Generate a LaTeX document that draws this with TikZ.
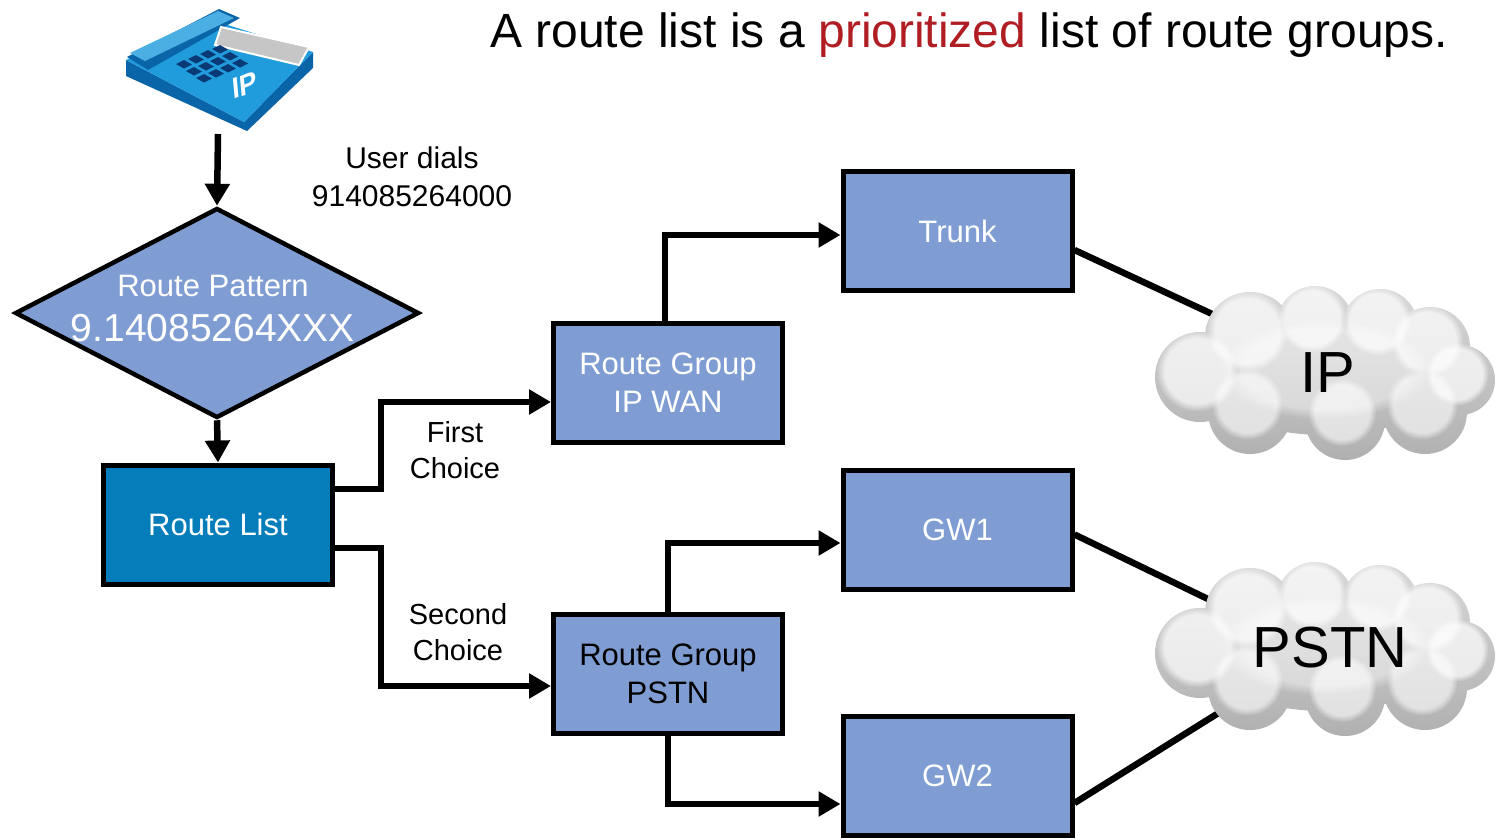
\documentclass[tikz,border=0pt]{standalone}
\usepackage{fontspec}
\setmainfont{Liberation Sans}
\usetikzlibrary{arrows.meta,shapes.geometric,fadings}
\definecolor{boxblue}{RGB}{127,157,210}
\definecolor{listblue}{RGB}{4,125,186}
\definecolor{titlered}{RGB}{176,30,36}
\definecolor{phonetop}{RGB}{32,155,220}
\definecolor{phoneside}{RGB}{10,100,168}
\definecolor{keyblue}{RGB}{10,58,118}

% a soft shaded cloud centred on (#1,#2)
\newcommand{\netcloud}[2]{%
  \begin{scope}[shift={(#1,#2)}]
    % silhouette, lighter at the top and greyer underneath
    \shade[top color=gray!30, bottom color=gray!62]
      (0,5) ellipse[x radius=125pt, y radius=58pt]
      foreach \dx/\dy/\r in {-75/-35/45, -10/-48/38, 55/-45/38, 105/-25/40,
                             -125/5/45, 135/8/35, -75/40/42, 20/48/40, 100/40/42}
        {(\dx,\dy) circle[radius=\r pt]};
    % puffs, back to front, each with a soft pale top
    \foreach \dx/\dy/\r in {-75/-35/45, -10/-48/38, 55/-45/38, 105/-25/40, -125/5/45, 135/8/35}
      \fill[white, opacity=0.7, path fading=circle with fuzzy edge 20 percent] (\dx-3,\dy-6) circle[radius=0.9*\r pt];
    \foreach \dx/\dy/\r in {-75/40/42, 20/48/40, 100/40/42}
      \fill[white, opacity=0.6, path fading=circle with fuzzy edge 20 percent] (\dx-3,\dy-8) circle[radius=0.85*\r pt];
    \fill[white, opacity=0.45, path fading=circle with fuzzy edge 20 percent] (0,-3) ellipse[x radius=105pt, y radius=50pt];
  \end{scope}}

\begin{document}
\begin{tikzpicture}[x=1pt,y=-1pt,
  box/.style={draw=black, line width=5pt, fill=boxblue, minimum width=229pt,
    minimum height=119pt, inner sep=0pt, align=center,
    font=\fontsize{31}{38}\selectfont, text=white},
  arr/.style={line width=6.5pt, -{Triangle[length=22pt,width=24pt]}},
  link/.style={line width=6.5pt},
  lbl/.style={align=center, font=\fontsize{29}{36}\selectfont, text=black}]

\useasboundingbox (0,0) rectangle (1496,839);
\fill[white] (0,0) rectangle (1496,839);

% heading
\node[anchor=base west, inner sep=0pt, font=\fontsize{48}{48}\selectfont] (title) at (490,47)
  {A route list is a \textcolor{titlered}{prioritized} list of route groups.};

% IP phone icon
\fill[phoneside] (126,60) -- (244,122) -- (313,52) -- (313,68) -- (247,131) -- (126,76) -- cycle;
\fill[phonetop] (126,60) -- (212,20) -- (313,52) -- (244,122) -- cycle;
\fill[phoneside] (127,57) -- (219,9) -- (240,18) -- (148,70) -- cycle;
\fill[phonetop!80!white] (130,53) -- (218,11) -- (234,18) -- (145,61) -- cycle;
\filldraw[fill=gray!45, draw=white, line width=2pt] (221,27) -- (309,47) -- (299,65) -- (215,45) -- cycle;
\foreach \i in {0,1,2,3}
  \foreach \j in {0,1,2}
    \fill[keyblue] ({176+12*\i+10*\j},{64-5*\i+7*\j}) -- ++(8,-4) -- ++(8,4.5) -- ++(-8,4) -- cycle;
\node[text=white, font=\bfseries\fontsize{28}{28}\selectfont, rotate=22, xslant=0.3] (iplabel) at (245,85) {IP};
\coordinate (phonebase) at (218,134);

% call-routing chain
\node[diamond, draw=black, line width=4.5pt, fill=boxblue, minimum width=404pt, minimum height=210pt,
  inner sep=0pt, shape aspect=1.92] (rp) at (217,313) {};
\node[text=white, font=\fontsize{31}{31}\selectfont] (rptop) at (213,286) {Route Pattern};
\node[text=white, font=\fontsize{39}{39}\selectfont] (rpnum) at (213,328) {9.14085264XXX};
\node[box, fill=listblue] (rl) at (218,524.5) {Route List};
\node[box] (rgip) at (668,382.5) {Route Group\\IP WAN};
\node[box, text=black] (rgp) at (668,673.5) {Route Group\\PSTN};
\node[box] (trunk) at (957.5,231) {Trunk};
\node[box] (gw1) at (957.5,529.5) {GW1};
\node[box] (gw2) at (957.5,776) {GW2};

\node[lbl, font=\fontsize{30}{38}\selectfont] (dial) at (412,177) {User dials\\914085264000};
\node[lbl] (first) at (455,450) {First\\Choice};
\node[lbl] (second) at (458,632) {Second\\Choice};

\draw[arr] (phonebase) -- (rp.north);
\draw[arr] (rp.south) -- (rl.north);
\draw[arr] ([yshift=35.5pt]rl.east) -- ++(46,0) |- ([yshift=-19.5pt]rgip.west);
\draw[arr] ([yshift=-23.5pt]rl.east) -- ++(46,0) |- ([yshift=-12.5pt]rgp.west);
\draw[arr] ([xshift=-3pt]rgip.north) |- ([yshift=-4pt]trunk.west);
\draw[arr] (rgp.north) |- ([yshift=-13.5pt]gw1.west);
\draw[arr] (rgp.south) |- ([yshift=-28pt]gw2.west);

% links into the clouds
\coordinate (ipin) at (1225,320);
\coordinate (pstnin1) at (1210,600);
\coordinate (pstnin2) at (1220,712);
\draw[link] ([yshift=-19pt]trunk.east) -- (ipin);
\draw[link] ([yshift=-5pt]gw1.east) -- (pstnin1);
\draw[link] ([yshift=-27pt]gw2.east) -- (pstnin2);

\netcloud{1325}{372}
\netcloud{1325}{648}
\node[font=\fontsize{58}{58}\selectfont] (ipc) at (1328,373) {IP};
\node[font=\fontsize{58}{58}\selectfont] (pstnc) at (1330,648) {PSTN};
\end{tikzpicture}
\end{document}
